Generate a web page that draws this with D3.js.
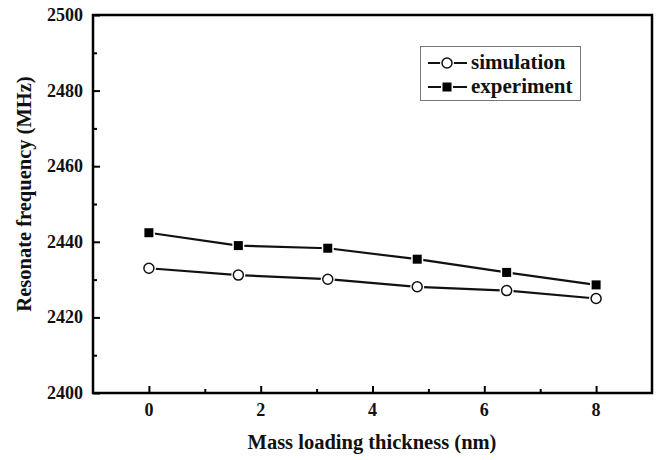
<!DOCTYPE html>
<html>
<head>
<meta charset="utf-8">
<script src="https://cdn.jsdelivr.net/npm/d3@7"></script>
</head>
<body style="margin:0">
<script>
const thickness = [0, 1.6, 3.2, 4.8, 6.4, 8];
const simulation = [2433, 2431.2, 2430.1, 2428.1, 2427.1, 2425];
const experiment = [2442.4, 2439, 2438.3, 2435.4, 2431.9, 2428.6];
const xTicks = [0, 2, 4, 6, 8];
const yTicks = [2400, 2420, 2440, 2460, 2480, 2500];
const seriesNames = ["simulation", "experiment"];

const width = 656, height = 460;
const marginTop = 15, marginRight = 4, marginBottom = 67, marginLeft = 93;
const serif = "Liberation Serif";

const x = d3.scaleLinear()
    .domain([-1, 9])
    .range([marginLeft, width - marginRight]);

const y = d3.scaleLinear()
    .domain([2400, 2500])
    .range([height - marginBottom, marginTop]);

const svg = d3.select("body").append("svg")
    .attr("width", width)
    .attr("height", height);

// ticks drawn inward, labels added separately as plain text
svg.append("g")
    .attr("transform", `translate(0,${height - marginBottom})`)
    .call(d3.axisBottom(x).tickValues([1, 3, 5, 7]).tickSize(-4).tickFormat(""))
    .call(g => g.select(".domain").remove())
    .call(g => g.selectAll("line").attr("stroke-width", 2));

svg.append("g")
    .attr("transform", `translate(${marginLeft},0)`)
    .call(d3.axisLeft(y).tickValues([2410, 2430, 2450, 2470, 2490]).tickSize(-4).tickFormat(""))
    .call(g => g.select(".domain").remove())
    .call(g => g.selectAll("line").attr("stroke-width", 2));

svg.append("g")
    .attr("transform", `translate(0,${height - marginBottom})`)
    .call(d3.axisBottom(x).tickValues(xTicks).tickSize(-7).tickFormat(""))
    .call(g => g.select(".domain").remove())
    .call(g => g.selectAll("line").attr("stroke-width", 2));

svg.append("g")
    .attr("transform", `translate(${marginLeft},0)`)
    .call(d3.axisLeft(y).tickValues(yTicks).tickSize(-7).tickFormat(""))
    .call(g => g.select(".domain").remove())
    .call(g => g.selectAll("line").attr("stroke-width", 2));

svg.append("g")
    .selectAll("text")
    .data(xTicks)
    .join("text")
    .attr("x", d => x(d))
    .attr("y", height - marginBottom + 23)
    .attr("text-anchor", "middle")
    .attr("font-family", serif)
    .attr("font-weight", "bold")
    .attr("font-size", 18)
    .attr("fill", "#111")
    .text(d => d);

svg.append("g")
    .selectAll("text")
    .data(yTicks)
    .join("text")
    .attr("x", marginLeft - 10)
    .attr("y", d => y(d) + 6)
    .attr("text-anchor", "end")
    .attr("font-family", serif)
    .attr("font-weight", "bold")
    .attr("font-size", 18)
    .attr("fill", "#111")
    .text(d => d);

// frame
svg.append("rect")
    .attr("x", marginLeft)
    .attr("y", marginTop)
    .attr("width", width - marginLeft - marginRight)
    .attr("height", height - marginTop - marginBottom)
    .attr("fill", "none")
    .attr("stroke", "#000")
    .attr("stroke-width", 2.5);

const line = d3.line()
    .x((d, i) => x(thickness[i]))
    .y(d => y(d));

[experiment, simulation].forEach(series => {
  svg.append("path")
      .datum(series)
      .attr("fill", "none")
      .attr("stroke", "#111")
      .attr("stroke-width", 2.2)
      .attr("d", line);
});

// white halos so the lines stop short of the markers
svg.append("g")
    .selectAll("rect")
    .data(experiment)
    .join("rect")
    .attr("x", (d, i) => x(thickness[i]) - 4.5)
    .attr("y", d => y(d) - 4.5)
    .attr("width", 9)
    .attr("height", 9)
    .attr("fill", "#000")
    .attr("stroke", "#fff")
    .attr("stroke-width", 3)
    .attr("paint-order", "stroke");

svg.append("g")
    .selectAll("circle")
    .data(simulation)
    .join("circle")
    .attr("cx", (d, i) => x(thickness[i]))
    .attr("cy", d => y(d))
    .attr("r", 7)
    .attr("fill", "#fff");

svg.append("g")
    .selectAll("circle")
    .data(simulation)
    .join("circle")
    .attr("cx", (d, i) => x(thickness[i]))
    .attr("cy", d => y(d))
    .attr("r", 5)
    .attr("fill", "#fff")
    .attr("stroke", "#111")
    .attr("stroke-width", 1.5);

// legend
const legend = svg.append("g");
legend.append("rect")
    .attr("x", 420.5).attr("y", 46.5)
    .attr("width", 160).attr("height", 54)
    .attr("fill", "#fff")
    .attr("stroke", "#777")
    .attr("stroke-width", 1);

seriesNames.forEach((name, i) => {
  const ly = 63 + i * 24;
  legend.append("line")
      .attr("x1", 428).attr("x2", 467)
      .attr("y1", ly).attr("y2", ly)
      .attr("stroke", "#111").attr("stroke-width", 2.2);
  if (i === 0) {
    legend.append("circle").attr("cx", 447).attr("cy", ly).attr("r", 7).attr("fill", "#fff");
    legend.append("circle").attr("cx", 447).attr("cy", ly).attr("r", 5)
        .attr("fill", "#fff").attr("stroke", "#111").attr("stroke-width", 1.5);
  } else {
    legend.append("rect").attr("x", 442.5).attr("y", ly - 4.5).attr("width", 9).attr("height", 9)
        .attr("fill", "#000").attr("stroke", "#fff").attr("stroke-width", 3).attr("paint-order", "stroke");
  }
  legend.append("text")
      .attr("x", 471).attr("y", ly + 6)
      .attr("font-family", serif)
      .attr("font-weight", "bold")
      .attr("font-size", 21)
      .attr("fill", "#111")
      .text(name);
});

// axis titles
svg.append("text")
    .attr("x", 372)
    .attr("y", 449)
    .attr("text-anchor", "middle")
    .attr("font-family", serif)
    .attr("font-weight", "bold")
    .attr("font-size", 20.5)
    .attr("fill", "#111")
    .text("Mass loading thickness (nm)");

svg.append("text")
    .attr("transform", "translate(31,194) rotate(-90)")
    .attr("text-anchor", "middle")
    .attr("font-family", serif)
    .attr("font-weight", "bold")
    .attr("font-size", 20.5)
    .attr("fill", "#111")
    .text("Resonate frequency (MHz)");
</script>
</body>
</html>
